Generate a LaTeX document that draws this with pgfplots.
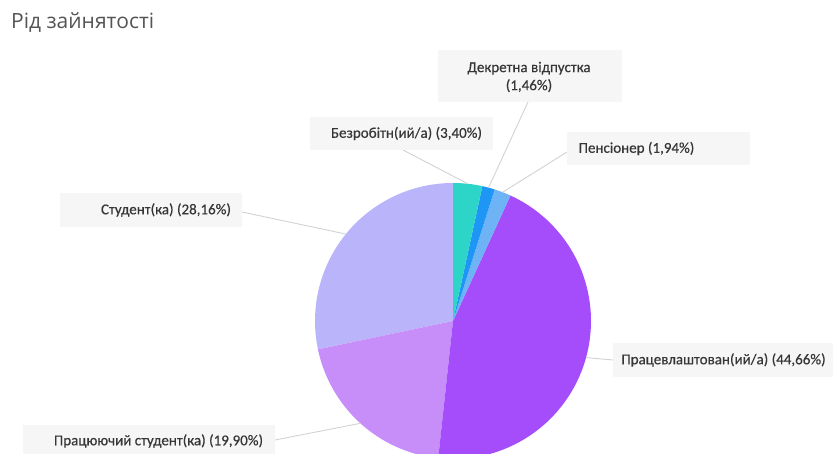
\documentclass[border=0pt]{standalone}
\usepackage{pgfplots}
\pgfplotsset{compat=1.18}
\usepackage{fontspec}
\setmainfont{Carlito}
\newfontfamily\labelfont[FakeBold=0.45]{Carlito}
\newfontfamily\titlefont{Open Sans}

\definecolor{cUnemp}{HTML}{2DD4C8}
\definecolor{cMat}{HTML}{1E96F5}
\definecolor{cPens}{HTML}{6DB3F6}
\definecolor{cEmp}{HTML}{A54DFB}
\definecolor{cWork}{HTML}{C78DF8}
\definecolor{cStud}{HTML}{BAB5FB}
\definecolor{boxbg}{HTML}{F6F6F6}
\definecolor{leader}{HTML}{D2D2D2}
\definecolor{labeltext}{HTML}{363636}
\definecolor{titletext}{HTML}{555555}

% shares in percent, counter-clockwise from 12 o'clock
\def\vStud{28.16}
\def\vWork{19.90}
\def\vEmp{44.66}
\def\vPens{1.94}
\def\vMat{1.46}
\def\vUnemp{3.40}

% pie centre and radius (axis units = pt)
\def\cx{453}
\def\cy{133}
\def\rr{138}

\pgfkeys{/pgf/number format/.cd, use comma, fixed, fixed zerofill, precision=2, assume math mode=true}
\newcommand{\pct}[1]{(\pgfmathprintnumber{#1}\%)}

\begin{document}
\begin{tikzpicture}
\pgfmathsetmacro\tot{\vStud+\vWork+\vEmp+\vPens+\vMat+\vUnemp}
\pgfmathsetmacro\aA{90}
\pgfmathsetmacro\aB{\aA+\vStud/\tot*360}
\pgfmathsetmacro\aC{\aB+\vWork/\tot*360}
\pgfmathsetmacro\aD{\aC+\vEmp/\tot*360}
\pgfmathsetmacro\aE{\aD+\vPens/\tot*360}
\pgfmathsetmacro\aF{\aE+\vMat/\tot*360}
\pgfmathsetmacro\aG{450}
% mid angles for leader lines
\pgfmathsetmacro\mStud{(\aA+\aB)/2}
\pgfmathsetmacro\mWork{(\aB+\aC)/2}
\pgfmathsetmacro\mEmp{(\aC+\aD)/2}
\pgfmathsetmacro\mPens{(\aD+\aE)/2}
\pgfmathsetmacro\mMat{(\aE+\aF)/2}
\pgfmathsetmacro\mUnemp{(\aF+\aG)/2}
\begin{axis}[
  width=833pt, height=454pt, scale only axis,
  xmin=0, xmax=833, ymin=0, ymax=454,
  hide axis, clip=true,
]
% slices
\addplot[fill=cStud, draw=none, domain=\aA:\aB, samples=60, variable=\t]
  ({\cx+\rr*cos(\t)},{\cy+\rr*sin(\t)}) -- (axis cs:\cx,\cy) -- cycle;
\addplot[fill=cWork, draw=none, domain=\aB:\aC, samples=60, variable=\t]
  ({\cx+\rr*cos(\t)},{\cy+\rr*sin(\t)}) -- (axis cs:\cx,\cy) -- cycle;
\addplot[fill=cEmp, draw=none, domain=\aC:\aD, samples=90, variable=\t]
  ({\cx+\rr*cos(\t)},{\cy+\rr*sin(\t)}) -- (axis cs:\cx,\cy) -- cycle;
\addplot[fill=cPens, draw=none, domain=\aD:\aE, samples=10, variable=\t]
  ({\cx+\rr*cos(\t)},{\cy+\rr*sin(\t)}) -- (axis cs:\cx,\cy) -- cycle;
\addplot[fill=cMat, draw=none, domain=\aE:\aF, samples=10, variable=\t]
  ({\cx+\rr*cos(\t)},{\cy+\rr*sin(\t)}) -- (axis cs:\cx,\cy) -- cycle;
\addplot[fill=cUnemp, draw=none, domain=\aF:\aG, samples=15, variable=\t]
  ({\cx+\rr*cos(\t)},{\cy+\rr*sin(\t)}) -- (axis cs:\cx,\cy) -- cycle;

% leader lines
\draw[leader, line width=0.9pt] (axis cs:528,352) -- (axis cs:{\cx+\rr*cos(\mMat)},{\cy+\rr*sin(\mMat)});
\draw[leader, line width=0.9pt] (axis cs:403,304) -- (axis cs:{\cx+\rr*cos(\mUnemp)},{\cy+\rr*sin(\mUnemp)});
\draw[leader, line width=0.9pt] (axis cs:567,302) -- (axis cs:{\cx+\rr*cos(\mPens)},{\cy+\rr*sin(\mPens)});
\draw[leader, line width=0.9pt] (axis cs:242,242) -- (axis cs:{\cx+\rr*cos(\mStud)},{\cy+\rr*sin(\mStud)});
\draw[leader, line width=0.9pt] (axis cs:613,94) -- (axis cs:{\cx+\rr*cos(\mEmp)},{\cy+\rr*sin(\mEmp)});
\draw[leader, line width=0.9pt] (axis cs:275,14) -- (axis cs:{\cx+\rr*cos(\mWork)},{\cy+\rr*sin(\mWork)});

% label boxes
\fill[boxbg] (axis cs:438,352) rectangle (axis cs:622,404);
\fill[boxbg] (axis cs:310,304) rectangle (axis cs:493,337);
\fill[boxbg] (axis cs:567,289) rectangle (axis cs:750,322);
\fill[boxbg] (axis cs:60,227) rectangle (axis cs:242,261);
\fill[boxbg] (axis cs:613,77) rectangle (axis cs:840,111);
\fill[boxbg] (axis cs:23,-6) rectangle (axis cs:275,29);

% label texts
\begin{scope}[every node/.style={text=labeltext, font=\labelfont\fontsize{15}{18}\selectfont, inner sep=0pt}]
\node[align=center] at (axis cs:529,377) {Декретна відпустка\\\pct{\vMat}};
\node at (axis cs:406.5,320.5) {Безробітн(ий/а) \pct{\vUnemp}};
\node at (axis cs:636.5,305.5) {Пенсіонер \pct{\vPens}};
\node at (axis cs:166,244) {Студент(ка) \pct{\vStud}};
\node at (axis cs:723.5,94) {Працевлаштован(ий/а) \pct{\vEmp}};
\node at (axis cs:158.5,13) {Працюючий студент(ка) \pct{\vWork}};
\end{scope}

% title
\node[anchor=west, inner sep=0pt, text=titletext, font=\titlefont\fontsize{21}{24}\selectfont] at (axis cs:11,431) {Рід зайнятості};
\end{axis}
\pgfresetboundingbox
\path[use as bounding box] (current axis.south west) rectangle (current axis.north east);
\end{tikzpicture}
\end{document}
